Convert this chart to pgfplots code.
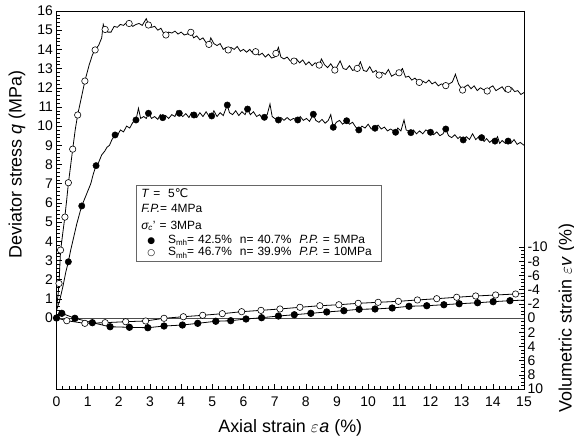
\documentclass[border=0pt]{standalone}
\usepackage{pgfplots}
\pgfplotsset{compat=1.18}
\usetikzlibrary{calc}
\usepackage{fontspec}
\setmainfont{Liberation Sans}
\newfontfamily\dejavu{DejaVu Sans}
\begin{document}
\begin{tikzpicture}
\pgfplotsset{
  base/.style={
    scale only axis, width=467.5bp, height=378bp,
    xmin=0, xmax=15,
    tick align=inside,
    major tick length=5bp, minor tick length=3bp,
    tick label style={font=\fontsize{14}{14}\selectfont},
    /pgf/number format/assume math mode=true,
    every tick/.style={black, line width=0.5pt},
  }
}
\begin{axis}[base,
  ymin=-3.70, ymax=16,
  xtick={0,1,...,15}, minor xtick={0,0.2,...,15},
  ytick={0,1,...,16}, minor ytick={0,0.2,...,16},
  xtick pos=bottom, ytick pos=left,
  xticklabel style={yshift=-4bp},
  axis line style={black, line width=0.8pt},
  xlabel={Axial strain $\varepsilon$\kern0.5pt\textit{a} (\%)},
  xlabel style={font=\fontsize{18}{18}\selectfont, yshift=-6bp},
  clip=false,
]
\coordinate (LL) at (rel axis cs:0,0);
\coordinate (UR) at (rel axis cs:1,1);
% open circles: P.P. = 10 MPa, deviator stress
\addplot[black, line width=0.8pt, mark=none] coordinates {
(0,0.5)(0.05,1.2)(0.08,1.8)(0.13,3.5)(0.2,4.4)(0.27,5.3)(0.33,6.2)(0.38,7.0)(0.45,7.9)(0.52,8.8)(0.6,9.8)(0.68,10.6)(0.8,11.5)(0.91,12.35)(1.05,13.2)(1.15,13.7)(1.24,14.0)(1.35,14.2)(1.45,14.6)(1.5,15.3)(1.56,15.0)(1.65,14.9)(1.75,14.9)(1.85,15.2)(1.95,15.15)(2.05,15.3)(2.15,15.25)(2.25,15.4)(2.33,15.35)(2.45,15.2)(2.55,15.3)(2.65,15.35)(2.75,15.25)(2.88,15.6)(2.95,15.3)(3.05,15.15)(3.15,15.2)(3.25,15.0)(3.35,15.1)(3.45,14.8)(3.51,14.75)(3.6,14.9)(3.7,14.85)(3.8,14.95)(3.9,14.8)(4.0,14.9)(4.1,14.75)(4.2,14.8)(4.31,14.95)(4.4,14.6)(4.5,14.7)(4.6,14.5)(4.7,14.6)(4.8,14.35)(4.89,14.25)(4.95,14.6)(5.05,14.3)(5.15,14.2)(5.25,14.3)(5.35,14.0)(5.45,14.1)(5.51,13.97)(5.6,14.1)(5.7,14.0)(5.8,14.15)(5.9,13.9)(6.0,14.0)(6.1,13.85)(6.2,14.0)(6.3,13.8)(6.39,13.88)(6.5,13.7)(6.6,13.8)(6.7,13.6)(6.8,13.75)(6.9,13.55)(7.0,13.6)(7.04,13.79)(7.12,14.1)(7.2,13.6)(7.3,13.5)(7.4,13.6)(7.5,13.4)(7.62,13.39)(7.7,13.5)(7.8,13.3)(7.9,13.45)(8.0,13.2)(8.1,13.35)(8.2,13.15)(8.3,13.3)(8.43,13.18)(8.5,13.5)(8.6,13.2)(8.7,13.05)(8.8,13.25)(8.93,12.92)(9.0,13.1)(9.1,13.4)(9.2,13.0)(9.3,12.95)(9.4,13.15)(9.5,12.9)(9.65,13.01)(9.75,13.35)(9.85,12.9)(9.95,12.85)(10.05,13.1)(10.15,12.8)(10.25,12.9)(10.35,12.66)(10.45,12.8)(10.55,12.7)(10.65,12.95)(10.75,12.6)(10.85,12.7)(10.99,12.78)(11.1,13.0)(11.2,12.55)(11.3,12.6)(11.4,12.4)(11.5,12.5)(11.64,12.28)(11.75,12.35)(11.85,12.25)(11.95,12.4)(12.05,12.2)(12.15,12.3)(12.25,12.1)(12.35,12.2)(12.49,12.11)(12.6,12.2)(12.7,12.3)(12.8,12.7)(12.9,12.2)(13.03,11.88)(13.1,12.05)(13.2,12.15)(13.3,11.95)(13.4,12.1)(13.5,11.85)(13.6,12.0)(13.7,11.9)(13.82,11.83)(13.9,12.0)(14.0,12.1)(14.1,11.85)(14.2,11.95)(14.3,12.05)(14.4,11.8)(14.49,11.92)(14.6,12.0)(14.7,11.8)(14.8,11.85)(14.9,11.65)(15.0,11.75)
};
% filled circles: P.P. = 5 MPa, deviator stress
\addplot[black, line width=0.8pt, mark=none] coordinates {
(0,0.4)(0.1,0.9)(0.2,1.6)(0.3,2.4)(0.38,2.93)(0.45,3.5)(0.55,4.2)(0.65,4.9)(0.75,5.5)(0.81,5.84)(0.9,6.2)(1.0,6.6)(1.1,7.0)(1.18,7.5)(1.27,7.94)(1.35,8.1)(1.45,8.5)(1.55,8.7)(1.62,8.9)(1.7,9.0)(1.78,9.3)(1.88,9.54)(1.95,9.5)(2.05,9.8)(2.15,9.7)(2.25,10.0)(2.35,9.9)(2.45,10.2)(2.55,10.32)(2.63,10.93)(2.7,10.4)(2.8,10.5)(2.88,10.4)(2.95,10.67)(3.05,10.4)(3.15,10.5)(3.25,10.35)(3.33,10.6)(3.41,10.44)(3.5,10.55)(3.6,10.4)(3.7,10.6)(3.8,10.5)(3.87,10.8)(3.94,10.67)(4.05,10.5)(4.15,10.65)(4.25,10.45)(4.33,10.7)(4.41,10.58)(4.5,10.45)(4.6,10.7)(4.7,10.5)(4.8,10.75)(4.9,10.5)(4.98,10.53)(5.05,10.8)(5.15,10.5)(5.25,10.7)(5.35,10.55)(5.48,11.1)(5.55,10.7)(5.65,10.6)(5.75,10.8)(5.85,10.55)(5.95,10.75)(6.05,10.6)(6.13,10.89)(6.22,10.6)(6.32,10.75)(6.42,10.5)(6.52,10.6)(6.6,10.4)(6.67,10.46)(6.76,10.6)(6.85,11.15)(6.92,10.5)(7.0,10.4)(7.12,10.32)(7.2,10.45)(7.3,10.3)(7.4,10.45)(7.5,10.3)(7.6,10.4)(7.74,10.32)(7.82,10.5)(7.92,10.3)(8.02,10.4)(8.12,10.25)(8.24,10.62)(8.32,10.3)(8.42,10.2)(8.52,10.35)(8.62,10.15)(8.72,10.3)(8.8,10.6)(8.88,9.94)(8.98,10.2)(9.08,10.3)(9.18,10.1)(9.31,10.28)(9.4,10.1)(9.5,10.2)(9.6,9.95)(9.7,9.8)(9.8,10.0)(9.9,9.9)(10.0,10.1)(10.1,9.85)(10.22,9.89)(10.32,10.05)(10.42,9.85)(10.52,9.95)(10.62,9.75)(10.72,9.85)(10.88,9.68)(10.95,9.9)(11.05,9.75)(11.15,10.32)(11.22,9.8)(11.37,9.66)(11.45,9.8)(11.55,9.6)(11.65,9.75)(11.75,9.6)(11.85,9.8)(12.0,9.68)(12.1,9.55)(12.2,9.7)(12.3,9.5)(12.4,9.6)(12.49,9.85)(12.58,9.5)(12.68,9.4)(12.78,9.55)(12.88,9.35)(12.95,9.45)(13.05,9.28)(13.15,9.45)(13.25,9.3)(13.35,9.6)(13.45,9.3)(13.55,9.45)(13.64,9.4)(13.72,9.2)(13.8,9.35)(13.9,9.15)(14.0,9.3)(14.07,9.22)(14.15,9.45)(14.22,9.1)(14.3,9.25)(14.4,9.1)(14.49,9.22)(14.58,9.1)(14.68,9.3)(14.78,9.05)(14.88,9.15)(15.0,9.0)
};
\addplot[only marks, mark=*, mark size=3.2bp, mark options={fill=white, draw=black, line width=0.6pt}] coordinates {
(0.08,1.8)(0.13,3.54)(0.27,5.26)(0.38,7.05)(0.52,8.8)(0.68,10.58)(0.91,12.35)(1.24,13.97)(1.56,15.04)(2.33,15.35)(2.95,15.27)(3.51,14.75)(4.31,14.89)(4.89,14.26)(5.51,13.97)(6.39,13.88)(7.04,13.79)(7.62,13.39)(8.43,13.18)(8.93,12.92)(9.65,13.01)(10.35,12.66)(10.99,12.78)(11.64,12.28)(12.49,12.11)(13.03,11.88)(13.82,11.83)(14.49,11.92)
};
\addplot[only marks, mark=*, mark size=3.2bp, mark options={fill=black, draw=black}] coordinates {
(0.38,2.93)(0.81,5.84)(1.27,7.94)(1.88,9.54)(2.55,10.32)(2.95,10.67)(3.41,10.44)(3.94,10.67)(4.41,10.58)(4.98,10.53)(5.48,11.1)(6.13,10.89)(6.67,10.46)(7.12,10.32)(7.74,10.32)(8.24,10.62)(8.88,9.94)(9.31,10.28)(9.7,9.8)(10.22,9.89)(10.88,9.68)(11.37,9.66)(12.0,9.68)(12.49,9.85)(13.05,9.28)(13.64,9.4)(14.07,9.22)(14.49,9.22)
};
% axis titles
\node[rotate=90, inner sep=0pt, font=\fontsize{18}{18}\selectfont] at ($(axis cs:0,8)+(-39.5bp,0bp)$) {Deviator stress \textit{q} (MPa)};
\node[rotate=90, inner sep=0pt, font=\fontsize{18}{18}\selectfont] at ($(axis cs:15,0)+(43bp,0bp)$) {Volumetric strain $\varepsilon$\kern0.5pt\textit{v} (\%)};
% text box
\node[draw=black!60, line width=0.6pt, anchor=north west, inner xsep=5bp, inner ysep=3bp, text width=235bp, align=left, font=\fontsize{12}{15}\selectfont]
  at (axis cs:2.55,6.93) {%
  \textit{T} =\ \ 5{\dejavu ℃}\\
  \textit{F.P.}= 4MPa\\[2bp]
  \textit{σ\textsubscript{c}}' = 3MPa\\[-1bp]
  \hspace*{6bp}{\dejavu\small ●}\hspace{13bp}S\raisebox{-0.4ex}{\footnotesize mh}= 42.5\%\ \ n= 40.7\%\ \ \textit{P.P.} = 5MPa\\[-2bp]
  \hspace*{6bp}{\dejavu\small ○}\hspace{13bp}S\raisebox{-0.4ex}{\footnotesize mh}= 46.7\%\ \ n= 39.9\%\ \ \textit{P.P.} = 10MPa};
\end{axis}
\begin{axis}[base,
  ymin=-43.24, ymax=10, y dir=reverse,
  axis x line=none, axis y line*=right,
  axis line style={black, line width=0.8pt},
  ytick={-10,-8,...,10}, minor ytick={-10,-9.5,...,10},
  yticklabel style={font=\fontsize{14}{14}\selectfont},
]
\addplot[black!70, line width=0.6pt, mark=none] coordinates {(0,0) (15,0)};
% volumetric strain, P.P. = 5 MPa (filled)
\addplot[black, line width=0.8pt, mark=*, mark size=3.2bp, mark options={fill=black}] coordinates {
(0,0.0)(0.17,-0.66)(0.59,0.04)(1.15,0.66)(1.72,1.23)(2.34,1.31)(2.93,1.37)(3.45,1.13)(4.04,0.99)(4.53,0.75)(5.11,0.46)(5.59,0.38)(6.08,0.14)(6.58,-0.04)(7.12,-0.28)(7.63,-0.46)(8.16,-0.66)(8.67,-0.85)(9.22,-1.03)(9.71,-1.23)(10.22,-1.27)(10.77,-1.41)(11.31,-1.65)(11.88,-1.73)(12.43,-1.87)(12.92,-2.01)(13.51,-2.15)(14.01,-2.3)(14.55,-2.44)
};
\addplot[black, line width=0.8pt, mark=none] coordinates {(14.55,-2.44)(15,-2.52)};
% volumetric strain, P.P. = 10 MPa (open)
\addplot[black, line width=0.8pt, mark=none] coordinates {(0,0)(0.33,0.38)};
\addplot[black, line width=0.8pt, mark=*, mark size=3.2bp, mark options={fill=white, line width=0.6pt}] coordinates {
(0.33,0.38)(0.91,0.75)(1.56,0.66)(2.22,0.52)(2.86,0.42)(3.45,0.04)(4.07,-0.18)(4.69,-0.38)(5.32,-0.61)(5.94,-0.89)(6.56,-1.08)(7.17,-1.27)(7.81,-1.51)(8.45,-1.73)(9.06,-1.87)(9.68,-2.07)(10.32,-2.21)(10.97,-2.35)(11.58,-2.54)(12.2,-2.72)(12.84,-2.92)(13.45,-3.1)(14.09,-3.24)(14.73,-3.38)
};
\addplot[black, line width=0.8pt, mark=none] coordinates {(14.73,-3.38)(15,-3.45)};
\end{axis}
\pgfresetboundingbox
\path ($(LL)+(-56.5bp,-49bp)$) rectangle ($(UR)+(50bp,11bp)$);
\end{tikzpicture}
\end{document}
